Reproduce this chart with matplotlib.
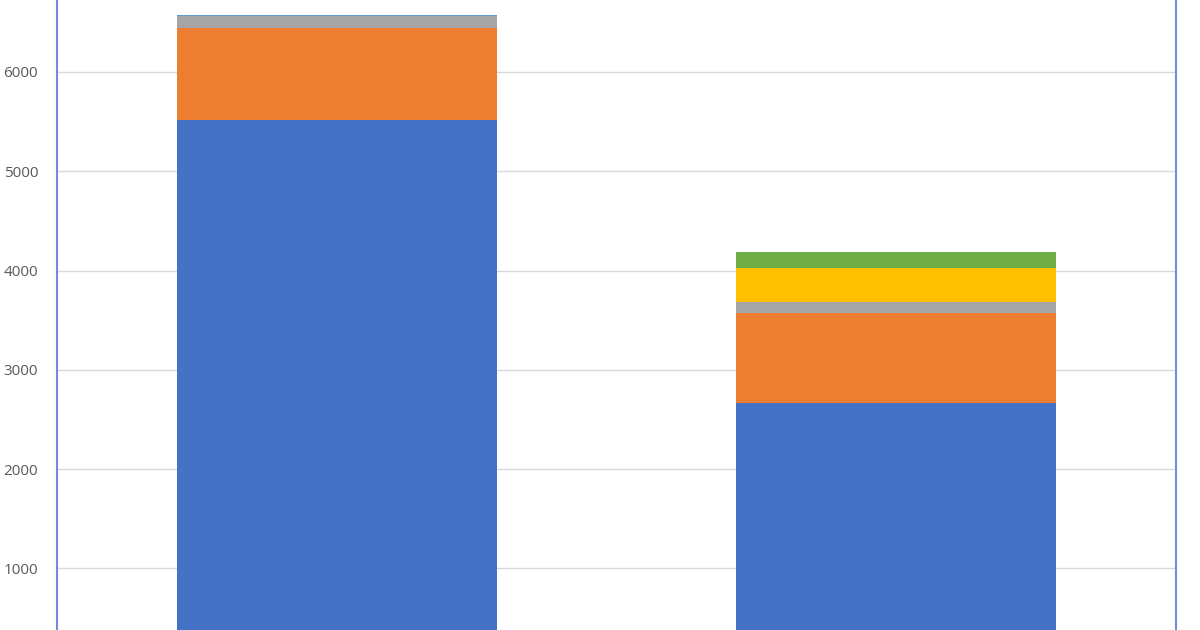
import numpy as np
import matplotlib.pyplot as plt

categories = ["A", "B"]
series_names = ["S1", "S2", "S3", "S4", "S5", "S6"]
s1 = [5516, 2663]
s2 = [930, 912]
s3 = [118, 111]
s4 = [0, 337]
s5 = [12, 0]
s6 = [0, 161]
ticks = [1000, 2000, 3000, 4000, 5000, 6000]

colors = ["#4472C4", "#ED7D31", "#A5A5A5", "#FFC000", "#5B9BD5", "#70AD47"]

fig = plt.figure(figsize=(12, 6.3), dpi=100)
ax = fig.add_axes([0.0475, 0.0, 0.9325, 1.0])

x = np.arange(len(categories)) + 0.5
bottom = np.zeros(len(categories))
for vals, c, name in zip([s1, s2, s3, s4, s5, s6], colors, series_names):
    ax.bar(x, vals, width=0.572, bottom=bottom, color=c, label=name, zorder=3)
    bottom += np.array(vals)

ax.set_xlim(0, 2)
ax.set_ylim(379, 6725)
ax.set_xticks([])
ax.set_yticks(ticks)
ax.set_yticklabels([str(t) for t in ticks], fontfamily="Open Sans", fontsize=11, color="#595959")
ax.tick_params(axis="y", length=0, pad=13.5)
ax.grid(axis="y", color="#D9D9D9", linewidth=1.0, zorder=0)

for s in ["top", "bottom"]:
    ax.spines[s].set_visible(False)
for s in ["left", "right"]:
    ax.spines[s].set_color("#6C8FD6")
    ax.spines[s].set_linewidth(1.5)

fig.savefig("out.png", dpi=100)
